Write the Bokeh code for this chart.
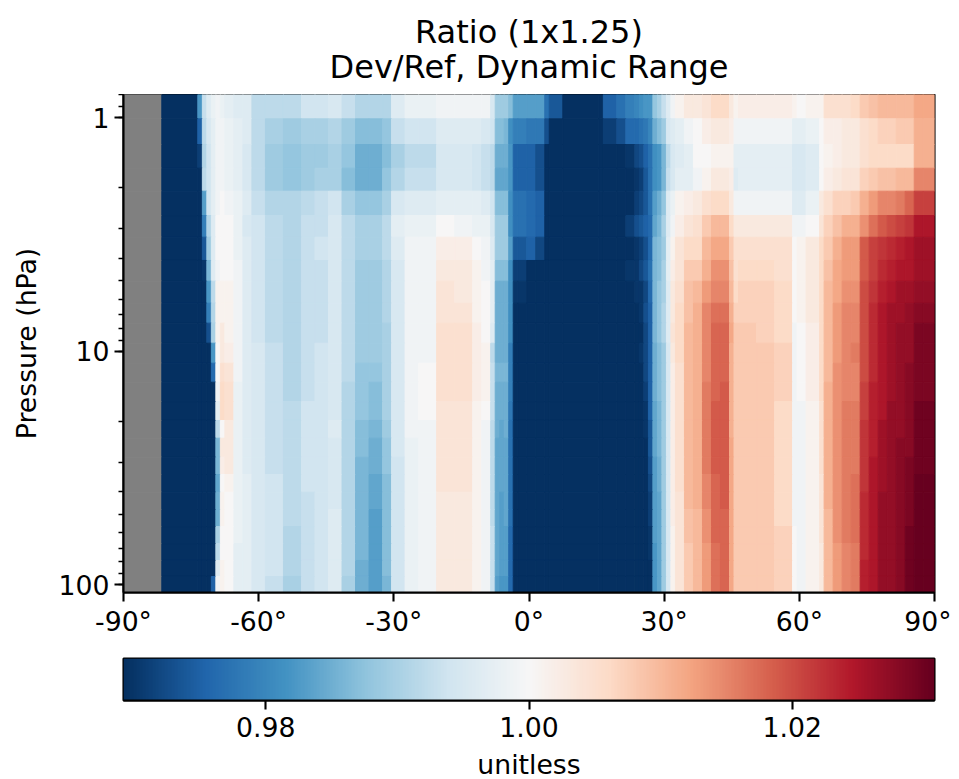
from math import nan
import numpy as np
from bokeh.embed import file_html
from bokeh.layouts import column
from bokeh.models import ColumnDataSource, FixedTicker, Label, LinearColorMapper, LogTicker
from bokeh.palettes import interp_palette
from bokeh.plotting import figure
from bokeh.resources import INLINE
from bokeh.transform import transform

N = nan
VMIN, VMAX = 0.9692, 1.0308
stops = ["#053061", "#2166ac", "#4393c3", "#92c5de", "#d1e5f0", "#f7f7f7",
         "#fddbc7", "#f4a582", "#d6604d", "#b2182b", "#67001f"]
title_lines = ["Ratio (1x1.25)", "Dev/Ref, Dynamic Range"]
x_ticks = [-90, -60, -30, 0, 30, 60, 90]
y_ticks = [1, 10, 100]
cbar_ticks = [0.98, 1.00, 1.02]

lat_edges = [-90, -81.5, -73.5, -72.5, -71.5, -70.5, -69.5, -68.5, -67.5, -65.5, -63.5, -61.5, -58.5, -54.5, -50.5,
             -47.5, -44.5, -41.5, -38.5, -35.5, -32.5, -30.5, -27.5, -24.5, -20.5, -16.5, -12.5, -10.5, -8.5, -7.5,
             -6.5, -5.5, -4.5, -3.5, -2.5, -0.5, 1.5, 3.5, 4.5, 7.5, 15.5, 16.5, 19.5, 21.5, 23.5, 24.5, 25.5, 26.5,
             27.5, 28.5, 29.5, 30.5, 31.5, 32.5, 34.5, 36.5, 38.5, 40.5, 42.5, 44.5, 45.5, 46.5, 50.5, 54.5, 58.5,
             59.5, 61.5, 64.5, 65.5, 67.5, 69.5, 71.5, 73.5, 75.5, 77.5, 79.5, 81.5, 83.5, 85.5, 87.5, 90]
p_edges = [0.797, 1.013, 1.305, 1.649, 2.068, 2.629, 3.256, 4.096, 5.024, 6.243, 7.60, 9.26, 11.28, 13.60, 16.46,
           19.84, 23.63, 28.50, 33.80, 40.24, 47.73, 56.45, 66.75, 78.9, 92.4, 108.2]

# deviation from 1, in thousandths; top level to bottom level
south = [
 [N,-31,-18,-7,-4,-2,-1,-2,-3,-4,-4,-8,-8,-8,-6,-6,-5,-7,-9,-9,-9,-4,-2,-2,-1,-1,-1,-1,-5,-11,-11,-11,-13,-17,-17],
 [N,-31,-25,-8,-5,-3,-1,-1,-2,-3,-4,-8,-10,-11,-10,-10,-9,-11,-13,-13,-12,-7,-6,-6,-4,-4,-4,-5,-6,-13,-13,-14,-19,-21,-21],
 [N,-31,-29,-9,-6,-3,-1,-1,-2,-3,-5,-8,-11,-12,-11,-11,-10,-12,-15,-15,-13,-10,-8,-8,-5,-5,-6,-7,-8,-15,-15,-15,-18,-25,-25],
 [N,-31,-31,-8,-6,-3,-1,-1,-2,-3,-5,-8,-11,-12,-11,-10,-10,-13,-15,-15,-12,-9,-7,-7,-5,-5,-6,-7,-8,-16,-16,-16,-18,-25,-25],
 [N,-31,-31,-17,-6,-3,-1,0,-1,-2,-4,-7,-9,-9,-8,-7,-6,-10,-12,-12,-10,-5,-4,-4,-3,-3,-3,-4,-6,-13,-13,-13,-19,-23,-23],
 [N,-31,-31,-21,-9,-4,0,0,0,-2,-5,-6,-8,-9,-7,-7,-5,-8,-10,-10,-8,-3,-2,-2,0,-1,-2,-2,-5,-11,-11,-11,-19,-23,-23],
 [N,-31,-31,-26,-11,-4,0,0,0,-2,-4,-6,-8,-9,-7,-6,-5,-8,-10,-10,-8,-4,-1,-1,2,2,0,-1,-4,-11,-11,-11,-17,-26,-26],
 [N,-31,-31,-30,-14,-4,-1,0,0,-1,-4,-6,-8,-9,-7,-7,-5,-8,-11,-11,-9,-5,-1,-1,3,3,1,-1,-3,-13,-13,-13,-19,-29,-29],
 [N,-31,-31,-31,-18,-8,1,1,1,-1,-4,-6,-8,-9,-7,-7,-5,-8,-11,-11,-9,-5,-1,-1,4,3,1,0,-3,-15,-15,-15,-19,-30,-30],
 [N,-31,-31,-31,-21,-9,1,1,1,-1,-4,-6,-8,-9,-7,-7,-5,-8,-11,-11,-9,-5,-1,-1,4,4,1,0,-3,-15,-15,-15,-19,-31,-31],
 [N,-31,-31,-31,-27,-10,1,3,1,-1,-4,-6,-8,-9,-7,-7,-5,-8,-11,-11,-10,-5,-1,-1,5,5,2,0,-4,-15,-15,-15,-19,-31,-31],
 [N,-31,-31,-31,-31,-18,0,3,2,-1,-4,-5,-7,-9,-7,-6,-5,-8,-11,-11,-10,-5,-1,-1,5,5,2,1,-8,-15,-15,-15,-21,-31,-31],
 [N,-31,-31,-31,-31,-24,0,5,4,-1,-4,-5,-7,-9,-7,-6,-5,-8,-12,-12,-10,-5,-1,0,5,5,2,1,-7,-14,-14,-14,-21,-31,-31],
 [N,-31,-31,-31,-31,-31,-1,6,5,-2,-4,-5,-7,-9,-7,-6,-5,-9,-12,-13,-10,-5,-1,0,5,5,2,1,-7,-15,-15,-15,-21,-31,-31],
 [N,-31,-31,-31,-31,-31,-3,6,5,-2,-4,-5,-7,-8,-6,-6,-5,-9,-12,-13,-10,-5,-1,0,4,4,1,0,-7,-15,-15,-15,-22,-31,-31],
 [N,-31,-31,-31,-31,-31,-8,0,3,-2,-4,-5,-7,-8,-6,-6,-4,-9,-13,-14,-11,-5,-1,-1,4,4,1,-1,-8,-15,-16,-15,-23,-31,-31],
 [N,-31,-31,-31,-31,-31,-14,3,3,-2,-4,-5,-7,-8,-6,-6,-5,-9,-13,-15,-12,-5,-2,-1,4,4,1,-1,-8,-16,-16,-16,-23,-31,-31],
 [N,-31,-31,-31,-31,-31,-14,2,3,-2,-4,-5,-7,-8,-6,-6,-5,-9,-14,-15,-12,-6,-2,-1,4,4,1,-1,-8,-16,-16,-16,-23,-31,-31],
 [N,-31,-31,-31,-31,-31,-16,0,1,-2,-3,-5,-6,-8,-6,-6,-5,-9,-14,-16,-13,-6,-2,-1,4,4,1,-1,-8,-16,-16,-16,-23,-31,-31],
 [N,-31,-31,-31,-31,-31,-15,1,0,-2,-3,-5,-6,-8,-7,-6,-5,-9,-14,-16,-13,-6,-2,-1,3,3,1,-1,-8,-16,-17,-16,-23,-31,-31],
 [N,-31,-31,-31,-31,-31,-15,1,0,-2,-3,-5,-6,-8,-7,-6,-4,-9,-14,-17,-13,-6,-2,-1,3,3,1,-1,-8,-16,-17,-16,-23,-31,-31],
 [N,-31,-31,-31,-31,-31,-10,0,0,-2,-3,-5,-6,-9,-7,-6,-4,-9,-14,-17,-13,-6,-2,-1,3,3,1,-1,-7,-16,-17,-17,-24,-31,-31],
 [N,-31,-31,-31,-31,-31,-8,0,0,-3,-3,-5,-6,-9,-7,-6,-4,-9,-14,-17,-13,-6,-2,-1,3,3,1,-1,-7,-16,-17,-17,-24,-31,-31],
 [N,-31,-31,-31,-31,-31,-4,1,0,-3,-3,-5,-6,-9,-7,-6,-4,-9,-15,-17,-13,-6,-2,-1,3,3,1,-1,-7,-16,-17,-17,-24,-31,-31],
 [N,-31,-31,-31,-31,-25,-1,1,0,-3,-3,-5,-7,-10,-7,-6,-4,-10,-15,-17,-14,-6,-2,-1,3,3,1,-1,-7,-17,-18,-18,-24,-31,-31],
]
north = [
 [-17,-17,-23,-26,-31,-31,-25,-23,-21,-20,-19,-18,-18,-12,-10,-7,-4,-1,1,3,3,4,6,6,3,1,2,2,2,1,0,1,1,5,5,5,6,8,9,10,10,10,10,12,12],
 [-22,-22,-27,-31,-31,-31,-29,-27,-24,-24,-23,-22,-20,-15,-13,-11,-5,-4,-3,-1,0,2,3,3,2,-1,-1,-1,-1,-3,-3,-2,0,2,2,3,3,5,6,7,7,8,8,11,11],
 [-25,-27,-31,-31,-31,-31,-31,-31,-30,-28,-27,-25,-23,-19,-18,-14,-8,-5,-4,-3,0,0,1,1,1,-3,-3,-3,-3,-5,-5,-4,0,1,2,3,3,5,6,6,6,6,6,11,11],
 [-25,-27,-31,-31,-31,-31,-31,-31,-31,-30,-29,-26,-23,-19,-18,-14,-7,-5,-3,-3,-1,1,3,3,2,-4,-3,-3,-3,-5,-5,-4,0,2,3,4,4,7,8,9,9,10,10,15,15],
 [-24,-25,-31,-31,-31,-31,-31,-31,-31,-29,-28,-26,-23,-17,-15,-12,-4,-2,1,2,3,5,6,6,3,-1,-1,-1,-1,-4,-4,-2,3,5,7,7,8,11,13,15,15,16,18,21,21],
 [-24,-25,-31,-31,-31,-31,-31,-31,-29,-27,-26,-25,-24,-16,-14,-10,-4,-1,2,4,5,8,10,10,6,3,3,3,3,-1,-1,0,4,7,9,11,11,14,17,19,20,21,22,25,25],
 [-25,-28,-31,-31,-31,-31,-31,-31,-31,-30,-29,-27,-24,-14,-13,-11,-3,1,4,6,6,10,12,12,8,5,5,5,5,0,1,3,6,8,11,13,13,19,21,22,23,24,25,26,26],
 [-31,-31,-31,-31,-31,-31,-31,-31,-30,-30,-28,-26,-23,-14,-13,-10,-3,2,4,8,8,11,14,14,9,5,6,6,5,0,1,3,6,9,12,13,13,19,21,23,24,25,25,26,26],
 [-31,-31,-31,-31,-31,-31,-31,-31,-31,-30,-30,-28,-24,-14,-12,-10,-4,3,5,9,10,13,15,15,10,6,7,7,6,0,1,3,6,10,12,14,14,20,22,24,25,26,26,27,27],
 [-31,-31,-31,-31,-31,-31,-31,-31,-31,-31,-30,-27,-25,-14,-12,-9,-4,3,6,9,11,15,17,17,11,7,7,7,6,0,1,3,6,10,13,15,15,20,23,25,26,26,27,28,28],
 [-31,-31,-31,-31,-31,-31,-31,-31,-31,-31,-31,-28,-25,-14,-12,-9,-4,4,6,10,11,15,18,18,12,8,8,7,6,-1,0,2,6,10,13,15,15,20,23,25,26,27,27,29,29],
 [-31,-31,-31,-31,-31,-31,-31,-31,-31,-31,-30,-28,-25,-15,-13,-11,-5,3,6,10,11,15,18,18,11,8,8,8,7,-1,0,2,6,10,13,15,16,20,23,25,26,27,27,29,29],
 [-31,-31,-31,-31,-31,-31,-31,-31,-31,-31,-31,-28,-25,-15,-13,-11,-5,2,5,10,11,15,18,18,11,8,8,8,7,-1,0,2,6,10,14,15,15,20,23,25,26,27,28,29,29],
 [-31,-31,-31,-31,-31,-31,-31,-31,-31,-31,-31,-29,-25,-15,-13,-11,-5,2,5,10,11,16,18,19,11,8,8,8,7,-1,0,2,6,11,14,15,15,21,24,25,26,27,28,29,29],
 [-31,-31,-31,-31,-31,-31,-31,-31,-31,-31,-31,-30,-25,-16,-14,-11,-5,2,5,10,11,16,19,19,11,8,8,8,6,-1,-1,1,5,11,14,16,16,21,24,25,27,27,28,30,30],
 [-31,-31,-31,-31,-31,-31,-31,-31,-31,-31,-31,-30,-26,-16,-14,-11,-5,2,5,10,11,16,19,19,11,8,8,8,6,-1,-1,1,5,11,14,16,16,22,24,26,27,27,28,30,30],
 [-31,-31,-31,-31,-31,-31,-31,-31,-31,-31,-31,-31,-26,-16,-14,-11,-5,2,5,10,11,16,19,19,12,8,8,8,6,-1,-1,1,5,11,14,16,16,22,24,26,27,28,28,30,30],
 [-31,-31,-31,-31,-31,-31,-31,-31,-31,-31,-31,-31,-27,-17,-15,-11,-5,2,5,10,11,16,19,19,12,8,8,8,6,-1,-1,1,5,11,14,16,16,22,25,26,27,28,29,30,30],
 [-31,-31,-31,-31,-31,-31,-31,-31,-31,-31,-31,-31,-28,-17,-15,-11,-5,2,5,10,11,15,18,19,12,8,8,8,6,-1,-1,1,4,11,14,16,17,22,25,26,27,28,29,31,31],
 [-31,-31,-31,-31,-31,-31,-31,-31,-31,-31,-31,-31,-29,-17,-16,-11,-5,2,4,10,11,15,18,19,12,8,8,8,6,-1,-1,1,4,11,14,16,17,23,25,27,27,28,29,31,31],
 [-31,-31,-31,-31,-31,-31,-31,-31,-31,-31,-31,-31,-29,-17,-16,-11,-5,2,4,9,10,14,18,18,12,8,8,8,6,-1,-1,1,4,10,14,16,17,23,25,27,27,28,29,31,31],
 [-31,-31,-31,-31,-31,-31,-31,-31,-31,-31,-31,-31,-30,-17,-16,-11,-5,1,4,9,10,14,18,18,12,8,8,8,7,0,-1,1,4,10,14,16,17,23,25,27,27,28,30,31,31],
 [-31,-31,-31,-31,-31,-31,-31,-31,-31,-31,-31,-31,-30,-18,-16,-11,-5,1,4,8,10,13,17,18,12,8,8,8,7,0,-1,1,3,10,13,15,16,23,25,27,27,28,30,31,31],
 [-31,-31,-31,-31,-31,-31,-31,-31,-31,-31,-31,-31,-31,-18,-16,-11,-5,1,4,8,10,13,17,18,12,8,8,8,7,0,-1,1,3,10,13,15,16,24,25,27,27,28,30,31,31],
 [-31,-31,-31,-31,-31,-31,-31,-31,-31,-31,-31,-31,-31,-18,-16,-11,-5,1,4,8,10,13,17,18,12,8,8,8,7,0,-1,1,3,10,13,15,16,24,25,27,27,28,30,31,31],
]

palette = interp_palette(stops, 256)
mapper = LinearColorMapper(palette=palette, low=VMIN, high=VMAX, nan_color="#808080")

left, right, top, bottom, ratio = [], [], [], [], []
for i, (s, n) in enumerate(zip(south, north)):
    row = s + n
    assert len(row) == len(lat_edges) - 1, (i, len(row))
    for j, v in enumerate(row):
        left.append(lat_edges[j]); right.append(lat_edges[j + 1])
        top.append(p_edges[i]); bottom.append(p_edges[i + 1])
        ratio.append(1 + v / 1000)
src = ColumnDataSource(dict(left=left, right=right, top=top, bottom=bottom,
                            ratio=np.array(ratio, dtype=float)))

FONT = "DejaVu Sans"
TICK = "26.7px"


def strip(height, labels, size):
    """Borderless figure that only holds centred lines of text."""
    f = figure(width=951, height=height, output_backend="svg", toolbar_location=None,
               x_range=(-90, 90), y_range=(0, height),
               min_border_left=123, min_border_right=17, min_border_top=0, min_border_bottom=0)
    f.axis.visible = False
    f.grid.visible = False
    f.outline_line_color = None
    for text, y in labels:
        f.add_layout(Label(x=0, y=y, text=text, text_align="center", text_baseline="middle",
                           text_font=FONT, text_font_size=size, text_color="#000000"))
    return f


head = strip(94, [(title_lines[0], 63), (title_lines[1], 28)], "32px")
foot = strip(31, [("unitless", 15.5)], TICK)

p = figure(width=951, height=546, output_backend="svg", toolbar_location=None,
           x_range=(-90, 90), y_range=(p_edges[-1], p_edges[0]), y_axis_type="log",
           min_border_left=123, min_border_right=17, min_border_top=0, min_border_bottom=48)
p.quad(left="left", right="right", top="top", bottom="bottom", source=src,
       fill_color=transform("ratio", mapper), line_color=transform("ratio", mapper), line_width=1)
p.grid.visible = False
p.outline_line_color = "#000000"
p.outline_line_width = 2.1
p.xaxis.ticker = FixedTicker(ticks=x_ticks)
p.xaxis.major_label_overrides = {t: f"{t}\u00b0" for t in x_ticks}
p.yaxis.ticker = LogTicker(num_minor_ticks=10)
p.yaxis.major_label_overrides = {t: str(t) for t in y_ticks}
p.yaxis.axis_label = "Pressure (hPa)"
p.yaxis.axis_label_text_font = FONT
p.yaxis.axis_label_text_font_size = TICK
p.yaxis.axis_label_text_font_style = "normal"
p.yaxis.axis_label_text_color = "#000000"
p.yaxis.axis_label_standoff = 14
for ax in (p.xaxis, p.yaxis):
    ax.major_label_text_font = FONT
    ax.major_label_text_font_size = TICK
    ax.major_label_text_color = "#000000"
    ax.major_label_standoff = 4
    ax.axis_line_color = "#000000"
    ax.axis_line_width = 2.1
    ax.major_tick_line_color = "#000000"
    ax.major_tick_line_width = 2.1
    ax.major_tick_in = 0
    ax.major_tick_out = 9
    ax.minor_tick_line_color = "#000000"
    ax.minor_tick_line_width = 1.6
    ax.minor_tick_in = 0
    ax.minor_tick_out = 5
p.xaxis.minor_tick_out = 0
p.yaxis.major_label_standoff = 5

cb = figure(width=951, height=108, output_backend="svg", toolbar_location=None,
            x_range=(VMIN, VMAX), y_range=(0, 1),
            min_border_left=123, min_border_right=17, min_border_top=18, min_border_bottom=48)
cb.image(image=[np.linspace(VMIN, VMAX, 256).reshape(1, 256)], x=VMIN, y=0, dw=VMAX - VMIN, dh=1, color_mapper=mapper)
cb.grid.visible = False
cb.yaxis.visible = False
cb.outline_line_color = "#000000"
cb.outline_line_width = 2.1
cb.xaxis.ticker = FixedTicker(ticks=cbar_ticks)
cb.xaxis.major_label_overrides = {t: f"{t:.2f}" for t in cbar_ticks}
cb.xaxis.major_label_text_font = FONT
cb.xaxis.major_label_text_font_size = TICK
cb.xaxis.major_label_text_color = "#000000"
cb.xaxis.major_label_standoff = 7
cb.xaxis.axis_line_color = "#000000"
cb.xaxis.axis_line_width = 2.1
cb.xaxis.major_tick_line_color = "#000000"
cb.xaxis.major_tick_line_width = 2.1
cb.xaxis.major_tick_in = 0
cb.xaxis.major_tick_out = 9
cb.xaxis.minor_tick_out = 0
cb.xaxis.minor_tick_in = 0

open("out.html", "w").write(file_html(column(head, p, cb, foot, spacing=0), INLINE))
